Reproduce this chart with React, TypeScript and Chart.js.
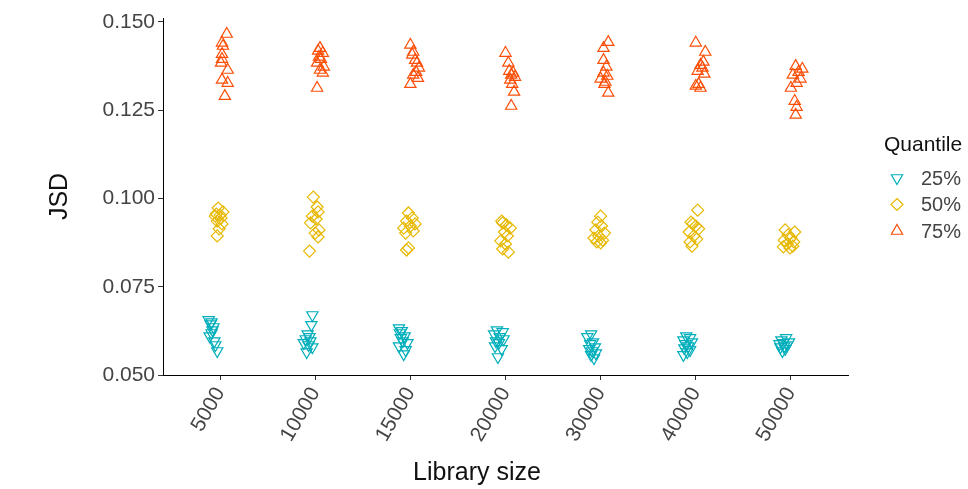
import React, { useEffect, useRef } from "react";
import { Chart, registerables } from "chart.js";

Chart.register(...registerables);

const categories = ["5000", "10000", "15000", "20000", "30000", "40000", "50000"];
const yTicks = [0.05, 0.075, 0.1, 0.125, 0.15];
const quantiles = ["25%", "50%", "75%"];
const colors = ["#00AFBB", "#E7B800", "#FC4E07"];

// JSD values per library size (one inner array per category)
const jsd25 = [
  [0.0656, 0.065, 0.0644, 0.0636, 0.0627, 0.0619, 0.061, 0.0596, 0.0585, 0.0568],
  [0.067, 0.0642, 0.0616, 0.0608, 0.0602, 0.0596, 0.0591, 0.0585, 0.0579, 0.0565],
  [0.0633, 0.0625, 0.0619, 0.061, 0.0605, 0.0596, 0.0591, 0.0582, 0.0571, 0.0559],
  [0.0627, 0.0622, 0.0616, 0.0608, 0.0602, 0.0596, 0.0591, 0.0582, 0.0574, 0.0551],
  [0.0616, 0.0608, 0.0593, 0.0588, 0.0579, 0.0574, 0.0568, 0.0562, 0.0557, 0.0548],
  [0.061, 0.0605, 0.0599, 0.0593, 0.0588, 0.0582, 0.0576, 0.0571, 0.0565, 0.0557],
  [0.0605, 0.0599, 0.0593, 0.0591, 0.0588, 0.0585, 0.0582, 0.0579, 0.0574, 0.0568],
];
const jsd50 = [
  [0.0973, 0.0962, 0.0956, 0.0953, 0.095, 0.0945, 0.0936, 0.0928, 0.0914, 0.0894],
  [0.1004, 0.0976, 0.0962, 0.095, 0.0942, 0.0931, 0.0911, 0.0902, 0.0891, 0.0851],
  [0.0959, 0.0945, 0.0936, 0.0928, 0.0922, 0.0916, 0.0908, 0.0902, 0.086, 0.0854],
  [0.0936, 0.0931, 0.0925, 0.0916, 0.0905, 0.0894, 0.088, 0.0871, 0.0857, 0.0848],
  [0.095, 0.0933, 0.0922, 0.0911, 0.0902, 0.0894, 0.0888, 0.0882, 0.0877, 0.0874],
  [0.0967, 0.0933, 0.0928, 0.0922, 0.0914, 0.0905, 0.0894, 0.0885, 0.0877, 0.0865],
  [0.0911, 0.0905, 0.0897, 0.0888, 0.0882, 0.0877, 0.0871, 0.0865, 0.0863, 0.086],
];
const jsd75 = [
  [0.1466, 0.1441, 0.1432, 0.1409, 0.1395, 0.1384, 0.1364, 0.1336, 0.1327, 0.129],
  [0.1426, 0.1418, 0.1412, 0.1401, 0.1395, 0.1384, 0.1373, 0.1364, 0.1356, 0.1313],
  [0.1435, 0.1415, 0.1407, 0.1392, 0.1384, 0.137, 0.1358, 0.135, 0.1341, 0.1324],
  [0.1412, 0.1384, 0.1361, 0.1356, 0.135, 0.1344, 0.1336, 0.1324, 0.1302, 0.1262],
  [0.1443, 0.1426, 0.1392, 0.1373, 0.1356, 0.1347, 0.1339, 0.133, 0.1324, 0.1299],
  [0.1441, 0.1415, 0.1387, 0.1378, 0.137, 0.1361, 0.1353, 0.1324, 0.1319, 0.1313],
  [0.1375, 0.1367, 0.1358, 0.135, 0.1339, 0.1327, 0.1313, 0.1276, 0.1259, 0.1237],
];

// horizontal jitter (category units) of each point
const jit25 = [
  [-0.12, -0.09, -0.1, -0.07, -0.08, -0.09, -0.11, -0.06, -0.05, -0.03],
  [-0.03, -0.04, -0.08, -0.06, -0.1, -0.05, -0.12, -0.07, -0.03, -0.09],
  [-0.12, -0.09, -0.11, -0.06, -0.1, -0.08, -0.03, -0.12, -0.05, -0.07],
  [-0.09, -0.03, -0.12, -0.06, -0.02, -0.1, -0.07, -0.11, -0.04, -0.08],
  [-0.1, -0.14, -0.08, -0.11, -0.06, -0.12, -0.09, -0.05, -0.1, -0.07],
  [-0.1, -0.06, -0.13, -0.04, -0.11, -0.08, -0.12, -0.06, -0.09, -0.13],
  [-0.05, -0.1, -0.02, -0.08, -0.12, -0.04, -0.07, -0.11, -0.06, -0.09],
];
const jit50 = [
  [-0.02, 0.03, -0.04, 0.0, -0.05, 0.01, -0.03, 0.02, -0.01, -0.03],
  [-0.02, 0.02, 0.03, -0.03, 0.01, -0.05, 0.04, 0.0, 0.03, -0.06],
  [-0.02, 0.02, -0.04, 0.05, 0.0, -0.07, 0.03, -0.05, -0.02, -0.04],
  [-0.04, -0.03, 0.01, 0.05, -0.01, 0.02, -0.05, 0.0, -0.03, 0.03],
  [0.0, -0.03, 0.01, -0.05, 0.04, -0.02, -0.07, 0.02, -0.04, 0.0],
  [0.02, -0.05, -0.03, 0.0, 0.03, -0.07, -0.02, 0.01, -0.06, -0.04],
  [-0.06, 0.04, -0.03, 0.0, -0.07, 0.03, -0.04, 0.02, -0.08, -0.01],
];
const jit75 = [
  [0.07, 0.02, 0.03, 0.02, 0.02, 0.01, 0.08, 0.02, 0.08, 0.05],
  [0.05, 0.03, 0.08, 0.04, 0.06, 0.02, 0.09, 0.05, 0.08, 0.02],
  [0.0, 0.03, 0.02, 0.05, 0.07, 0.09, 0.06, 0.03, 0.08, 0.0],
  [0.0, 0.03, 0.04, 0.08, 0.06, 0.1, 0.05, 0.07, 0.09, 0.06],
  [0.08, 0.03, 0.03, 0.06, 0.03, 0.07, 0.0, 0.05, 0.04, 0.08],
  [0.0, 0.1, 0.08, 0.05, 0.07, 0.02, 0.09, 0.03, 0.0, 0.05],
  [0.05, 0.12, 0.08, 0.02, 0.1, 0.06, 0.0, 0.04, 0.06, 0.05],
];

const FONT = "'Liberation Sans', Arial, Helvetica, sans-serif";
const TXT = "#444444";

function toPoints(vals: number[][], jit: number[][]) {
  const pts: { x: number; y: number }[] = [];
  vals.forEach((arr, ci) => {
    arr.forEach((v, i) => pts.push({ x: ci + 1 + jit[ci][i], y: v }));
  });
  return pts;
}

function drawMarker(ctx: CanvasRenderingContext2D, kind: number, x: number, y: number, color: string) {
  ctx.save();
  ctx.strokeStyle = color;
  ctx.lineWidth = 1.2;
  ctx.beginPath();
  if (kind === 1) {
    const r = 6;
    ctx.moveTo(x, y - r);
    ctx.lineTo(x + r, y);
    ctx.lineTo(x, y + r);
    ctx.lineTo(x - r, y);
  } else {
    const r = 6.5;
    const s = kind === 0 ? -1 : 1;
    ctx.moveTo(x, y - s * r);
    ctx.lineTo(x + r * 0.866, y + s * r * 0.5);
    ctx.lineTo(x - r * 0.866, y + s * r * 0.5);
  }
  ctx.closePath();
  ctx.stroke();
  ctx.restore();
}

const decorPlugin = {
  id: "decor",
  afterDraw(chart: any) {
    const ctx: CanvasRenderingContext2D = chart.ctx;
    const area = chart.chartArea;
    ctx.save();
    ctx.fillStyle = "#111";
    ctx.font = `25px ${FONT}`;
    ctx.textAlign = "center";
    ctx.textBaseline = "middle";
    ctx.fillText("Library size", 477, 473);
    ctx.save();
    ctx.translate(60, (area.top + area.bottom) / 2);
    ctx.rotate(-Math.PI / 2);
    ctx.fillText("JSD", 0, 0);
    ctx.restore();
    ctx.font = `21px ${FONT}`;
    ctx.textAlign = "left";
    ctx.fillText("Quantile", 884, 145);
    quantiles.forEach((q, i) => {
      const y = 178 + i * 26.5;
      drawMarker(ctx, i, 897, y, colors[i]);
      ctx.fillStyle = TXT;
      ctx.font = `20px ${FONT}`;
      ctx.fillText(q, 921, y + 1);
    });
    ctx.restore();
  },
};

export default function App() {
  const ref = useRef<HTMLCanvasElement>(null);
  useEffect(() => {
    if (!ref.current) return;
    const datasets = [jsd25, jsd50, jsd75].map((vals, i) => ({
      label: quantiles[i],
      data: toPoints(vals, [jit25, jit50, jit75][i]),
      pointStyle: i === 1 ? "rectRot" : "triangle",
      rotation: i === 0 ? 180 : 0,
      pointRadius: i === 1 ? 6 : 6.5,
      pointBorderWidth: 1.2,
      borderColor: colors[i],
      backgroundColor: "rgba(0,0,0,0)",
      pointBackgroundColor: "rgba(0,0,0,0)",
      pointBorderColor: colors[i],
    }));
    const chart = new Chart(ref.current, {
      type: "scatter",
      data: { datasets },
      options: {
        animation: false,
        responsive: false,
        maintainAspectRatio: false,
        layout: { padding: { left: 0, right: 120, top: 18, bottom: 0 } },
        plugins: { legend: { display: false }, tooltip: { enabled: false } },
        scales: {
          x: {
            type: "linear",
            min: 0.4,
            max: 7.6,
            afterBuildTicks: (s: any) => {
              s.ticks = categories.map((_, i) => ({ value: i + 1 }));
            },
            afterFit: (s: any) => {
              s.height = 114;
            },
            ticks: {
              minRotation: 60,
              maxRotation: 60,
              autoSkip: false,
              padding: 3,
              color: TXT,
              font: { family: FONT, size: 21 },
              callback: (v: any) => categories[Math.round(Number(v)) - 1] ?? "",
            },
            grid: { drawOnChartArea: false, drawTicks: true, tickLength: 5, color: "#333" },
            border: { display: true, color: "#000", width: 1 },
          },
          y: {
            type: "linear",
            min: 0.05,
            max: 0.15113,
            afterBuildTicks: (s: any) => {
              s.ticks = yTicks.map((v) => ({ value: v }));
            },
            afterFit: (s: any) => {
              s.width = 163;
            },
            ticks: {
              padding: 3,
              color: TXT,
              font: { family: FONT, size: 21 },
              callback: (v: any) => Number(v).toFixed(3),
            },
            grid: { drawOnChartArea: false, drawTicks: true, tickLength: 5, color: "#333" },
            border: { display: true, color: "#000", width: 1 },
          },
        },
      },
      plugins: [decorPlugin],
    } as any);
    return () => chart.destroy();
  }, []);
  return (
    <div style={{ position: "fixed", left: 0, top: 0, width: 968, height: 489, background: "#fff" }}>
      <canvas ref={ref} width={968} height={489} style={{ width: 968, height: 489 }} />
    </div>
  );
}
